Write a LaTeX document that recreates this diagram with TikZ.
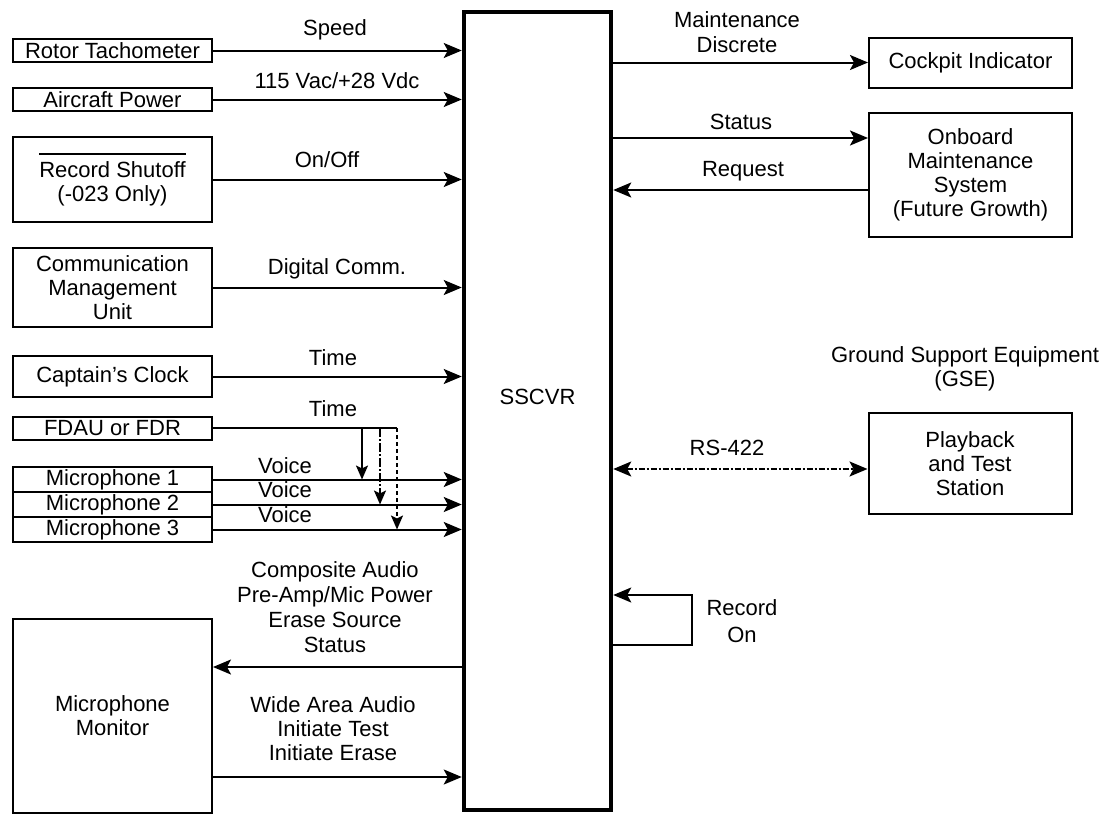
\documentclass[tikz,border=0pt]{standalone}
\usepackage{fontspec}
\setmainfont{Liberation Sans}
\usepackage{tikz}
\usetikzlibrary{calc, arrows.meta}

\newcommand{\lblfont}{\fontsize{22}{24}\selectfont}
\newcommand{\barred}[1]{\leavevmode\vbox{\hrule height 1.8pt \kern 6pt \hbox{#1}}}

\tikzset{
  unit/.style={draw, line width=2pt, align=center, inner sep=0pt, font=\lblfont},
  sig/.style={line width=2pt, -{Stealth[length=18pt,width=15pt,inset=4pt]}},
  lbl/.style={align=center, inner sep=0pt, font=\lblfont}
}

\begin{document}
\begin{tikzpicture}[x=1pt, y=-1pt]
    \useasboundingbox (0,0) rectangle (1105,814);

    % Recorder
    \node[draw, line width=4.5pt, minimum width=147pt, minimum height=798pt] (sscvr) at (537.5,411) {};
    \node[lbl] (sscvrtxt) at (537.5,397) {SSCVR};

    % Inputs on the left
    \node[unit, minimum width=199pt, minimum height=23pt] (rotor) at (112.5,50.5) {Rotor Tachometer};
    \node[unit, minimum width=199pt, minimum height=23pt] (power) at (112.5,99.5) {Aircraft Power};
    \node[unit, minimum width=199pt, minimum height=85pt] (shutoff) at (112.5,179.5) {\barred{Record Shutoff}\\(-023 Only)};
    \node[unit, minimum width=199pt, minimum height=79pt] (cmu) at (112.5,287.5) {Communication\\Management\\Unit};
    \node[unit, minimum width=199pt, minimum height=41pt] (clock) at (112.5,376.5) {Captain's Clock};
    \node[unit, minimum width=199pt, minimum height=23pt] (fdau) at (112.5,428) {FDAU or FDR};
    \node[unit, minimum width=199pt, minimum height=25pt] (mic1) at (112.5,479.5) {Microphone 1};
    \node[unit, minimum width=199pt, minimum height=25pt] (mic2) at (112.5,504.5) {Microphone 2};
    \node[unit, minimum width=199pt, minimum height=25pt] (mic3) at (112.5,529.5) {Microphone 3};
    \node[unit, minimum width=199pt, minimum height=194pt] (monitor) at (112.5,715.5) {Microphone\\Monitor};

    % Units on the right
    \node[unit, minimum width=203pt, minimum height=50pt] (cockpit) at (970.5,62.5) {Cockpit Indicator};
    \node[unit, minimum width=203pt, minimum height=124pt] (onboard) at (970.5,175) {Onboard\\Maintenance\\System\\(Future Growth)};
    \node[unit, minimum width=203pt, minimum height=101pt] (playback) at (970,463.5) {Playback\\and Test\\Station};
    \node[lbl] (gse) at (965,369) {Ground Support Equipment\\(GSE)};

    % Input signals
    \draw[sig] (rotor.east) -- (rotor.east -| sscvr.west);
    \node[lbl] (speed) at (335,30) {Speed};
    \draw[sig] (power.east) -- (power.east -| sscvr.west);
    \node[lbl] (volts) at (337,81) {115 Vac/+28 Vdc};
    \draw[sig] (shutoff.east) -- (shutoff.east -| sscvr.west);
    \node[lbl] (onoff) at (327,160) {On/Off};
    \draw[sig] (cmu.east) -- (cmu.east -| sscvr.west);
    \node[lbl] (digital) at (337,269) {Digital Comm.};
    \draw[sig] (clock.east) -- (clock.east -| sscvr.west);
    \node[lbl] (time1) at (333,358) {Time};

    % Time from FDAU into the voice lines
    \coordinate (tap1) at (362,427);
    \coordinate (tap2) at (380,427);
    \coordinate (tap3) at (397,427);
    \draw[line width=2pt] (fdau.east) -- (fdau.east -| tap3);
    \node[lbl] (time2) at (333,409) {Time};
    \draw[sig, -{Stealth[length=14pt,width=12pt,inset=3pt]}] (fdau.east -| tap1) -- (mic1.east -| tap1);
    \draw[sig, -{Stealth[length=14pt,width=12pt,inset=3pt]}, dash pattern=on 9pt off 2pt on 2pt off 2pt] (fdau.east -| tap2) -- (mic2.east -| tap2);
    \draw[sig, -{Stealth[length=14pt,width=12pt,inset=3pt]}, dash pattern=on 4pt off 3pt] (fdau.east -| tap3) -- (mic3.east -| tap3);

    % Voice
    \draw[sig] (mic1.east) -- (mic1.east -| sscvr.west);
    \draw[sig] (mic2.east) -- (mic2.east -| sscvr.west);
    \draw[sig] (mic3.east) -- (mic3.east -| sscvr.west);
    \node[lbl] (voice1) at (285,466) {Voice};
    \node[lbl] (voice2) at (285,490) {Voice};
    \node[lbl] (voice3) at (285,515) {Voice};

    % Microphone monitor
    \coordinate (audioout) at (300,667);
    \coordinate (audioin) at (300,777);
    \draw[sig] (audioout -| sscvr.west) -- (audioout -| monitor.east);
    \node[lbl, font=\fontsize{22}{25}\selectfont] (outsigs) at (335,607) {Composite Audio\\Pre-Amp/Mic Power\\Erase Source\\Status};
    \draw[sig] (audioin -| monitor.east) -- (audioin -| sscvr.west);
    \node[lbl] (insigs) at (333,729) {Wide Area Audio\\Initiate Test\\Initiate Erase};

    % Outputs on the right
    \draw[sig] (cockpit.west -| sscvr.east) -- (cockpit.west);
    \node[lbl, font=\fontsize{22}{25}\selectfont] (discrete) at (737,32) {Maintenance\\Discrete};
    \coordinate (statusy) at (800,138);
    \coordinate (requesty) at (800,190);
    \draw[sig] (statusy -| sscvr.east) -- (statusy -| onboard.west);
    \node[lbl] (status) at (741,122) {Status};
    \draw[sig] (requesty -| onboard.west) -- (requesty -| sscvr.east);
    \node[lbl] (request) at (743,171) {Request};

    % RS-422 link
    \coordinate (linky) at (800,469);
    \draw[sig, {Stealth[length=18pt,width=15pt,inset=4pt]}-{Stealth[length=18pt,width=15pt,inset=4pt]}, dash pattern=on 6pt off 2pt on 2pt off 2pt] (linky -| sscvr.east) -- (linky -| playback.west);
    \node[lbl] (rs) at (727,448) {RS-422};

    % Record On loop
    \coordinate (recbot) at (692,645);
    \coordinate (rectop) at (692,595);
    \draw[sig] (recbot -| sscvr.east) -- (recbot) -- (rectop) -- (rectop -| sscvr.east);
    \node[lbl, font=\fontsize{22}{27}\selectfont] (recon) at (742,621) {Record\\On};
\end{tikzpicture}
\end{document}
